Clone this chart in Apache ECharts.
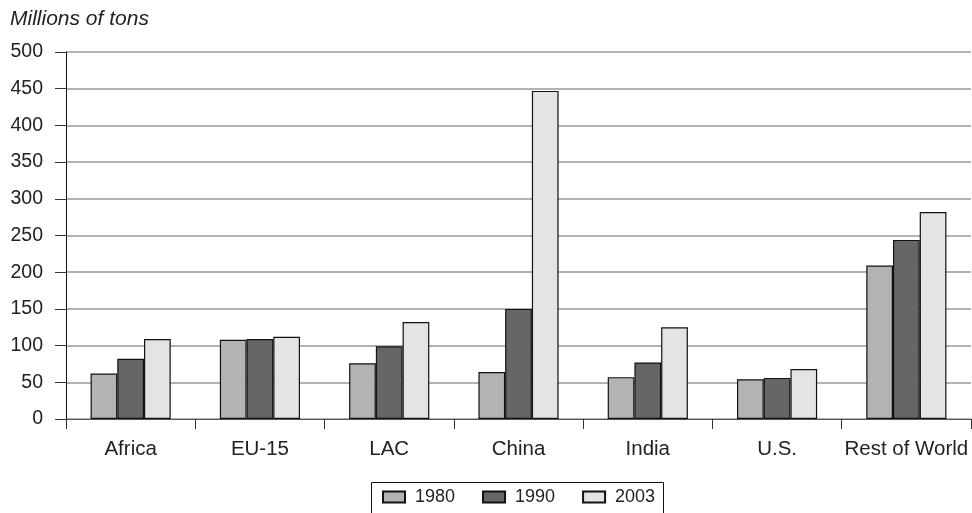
<!DOCTYPE html>
<html>
<head>
<meta charset="utf-8">
<script src="https://cdn.jsdelivr.net/npm/echarts@6/dist/echarts.min.js"></script>
<style>
html,body{margin:0;padding:0;background:#fff;}
#chart{width:972px;height:513px;}
</style>
</head>
<body>
<div id="chart"></div>
<script>
const categories = ['Africa', 'EU-15', 'LAC', 'China', 'India', 'U.S.', 'Rest of World'];
const seriesNames = ['1980', '1990', '2003'];
const values1980 = [62, 108, 76, 64, 57, 54, 209];
const values1990 = [82, 109, 99, 150, 77, 56, 244];
const values2003 = [109, 112, 132, 447, 125, 68, 282];
const yTicks = [0, 50, 100, 150, 200, 250, 300, 350, 400, 450, 500];
const colors = ['#b3b3b3', '#666666', '#e4e4e4'];

const font = 'Liberation Sans, Arial, sans-serif';
const chart = echarts.init(document.getElementById('chart'));
const allValues = [values1980, values1990, values2003];

chart.setOption({
  animation: false,
  backgroundColor: '#fff',
  grid: { left: 66, right: 1, top: 52, bottom: 94, containLabel: false },
  graphic: [
    {
      type: 'text', left: 10, top: 9,
      style: { text: 'Millions of tons', font: 'italic 21px ' + font, fill: '#222' }
    },
    {
      type: 'rect', shape: { x: 371.5, y: 482.5, width: 292, height: 40 },
      style: { fill: 'none', stroke: '#111', lineWidth: 1 }, z: 1
    }
  ],
  legend: {
    left: 382, top: 488, padding: 0, itemWidth: 22, itemHeight: 11, itemGap: 27,
    icon: 'rect',
    data: seriesNames,
    textStyle: { fontFamily: font, fontSize: 18, color: '#222', padding: [0, 0, 0, 5] },
    z: 5
  },
  xAxis: {
    type: 'category', data: categories,
    axisLine: { lineStyle: { color: '#555', width: 1 } },
    axisTick: { show: true, interval: 0, length: 10, lineStyle: { color: '#333', width: 1 } },
    axisLabel: { interval: 0, fontFamily: font, fontSize: 20.5, color: '#222', margin: 20 }
  },
  yAxis: {
    type: 'value', min: 0, max: 500, interval: 50,
    axisLine: { show: true, lineStyle: { color: '#111', width: 1 } },
    axisTick: { show: true, length: 11, lineStyle: { color: '#333', width: 1 } },
    axisLabel: {
      fontFamily: font, fontSize: 19.5, color: '#222', margin: 23,
      formatter: v => yTicks.includes(v) ? String(v) : ''
    },
    splitLine: { show: true, lineStyle: { color: '#999', width: 1.5 } }
  },
  series: seriesNames.map((name, i) => ({
    name: name, type: 'bar', data: allValues[i],
    barGap: '0%', barCategoryGap: '38%',
    itemStyle: { color: colors[i], borderColor: '#111', borderWidth: 1.2 }
  }))
});
</script>
</body>
</html>
